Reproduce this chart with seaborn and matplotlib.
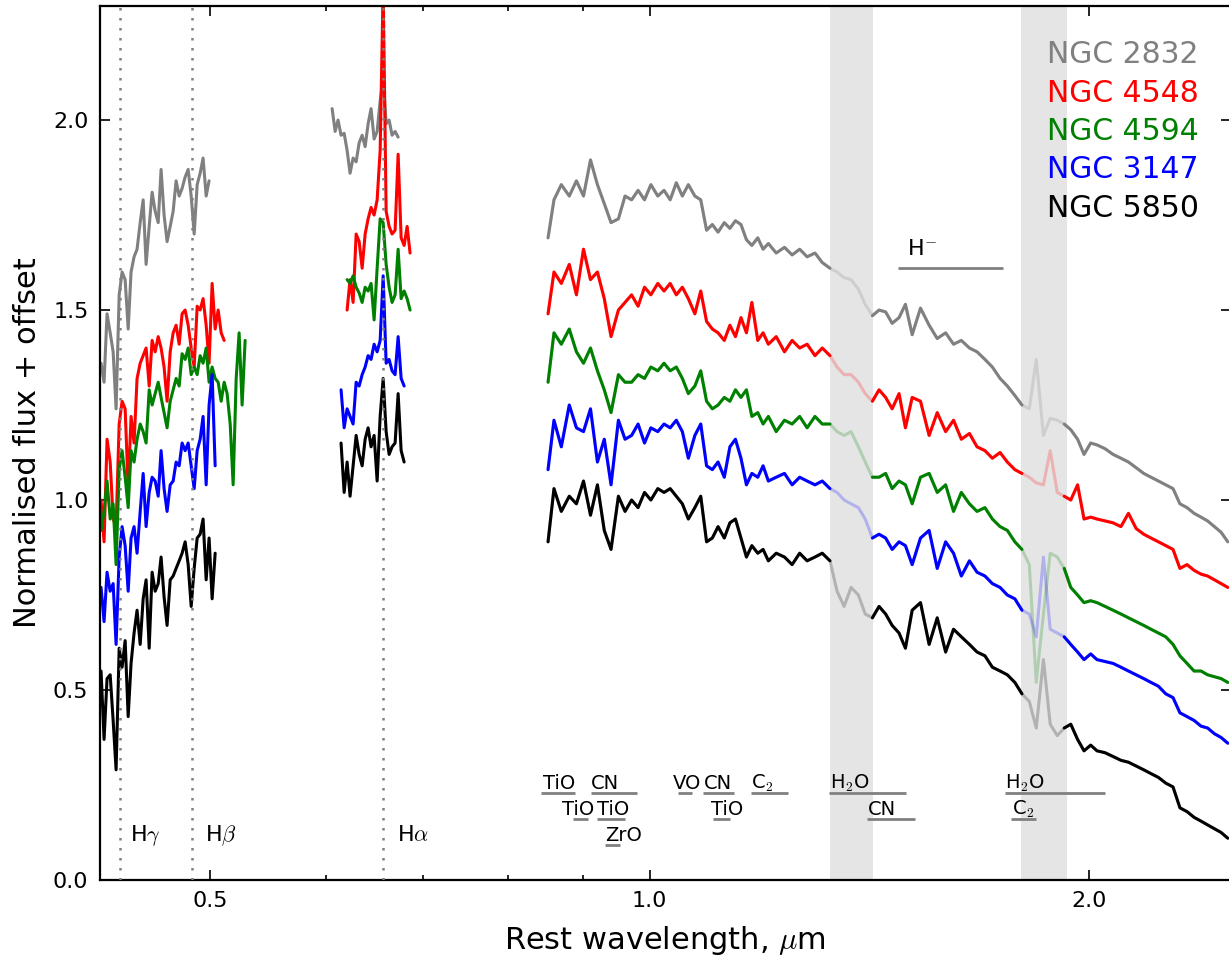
import numpy as np
import pandas as pd
import matplotlib
matplotlib.use("Agg")
import matplotlib.pyplot as plt
from matplotlib.ticker import FixedLocator, NullFormatter
import seaborn as sns

# ---------------- data ----------------
GALAXIES = ["NGC 2832", "NGC 4548", "NGC 4594", "NGC 3147", "NGC 5850"]
COLORS = ["grey", "red", "green", "blue", "black"]

# optical segment (micron)
OPT_WL = [0.4210, 0.4230, 0.4250, 0.4271, 0.4291, 0.4311, 0.4332, 0.4352, 0.4373, 0.4394,
          0.4414, 0.4435, 0.4456, 0.4478, 0.4499, 0.4520, 0.4542, 0.4563, 0.4585, 0.4607,
          0.4628, 0.4650, 0.4672, 0.4695, 0.4717, 0.4739, 0.4762, 0.4784, 0.4807, 0.4830,
          0.4853, 0.4876, 0.4899, 0.4922, 0.4945, 0.4969, 0.4992, 0.5016, 0.5040, 0.5064,
          0.5088, 0.5112, 0.5136, 0.5161, 0.5185, 0.5210, 0.5234, 0.5259, 0.5284]
N = None
OPT_2832 = [1.36, 1.31, 1.49, 1.44, 1.39, 1.24, 1.54, 1.60, 1.58, 1.45, 1.60, 1.64, 1.66, 1.73,
            1.79, 1.62, 1.72, 1.81, 1.76, 1.73, 1.87, 1.75, 1.68, 1.72, 1.76, 1.84, 1.80, 1.82,
            1.85, 1.87, 1.80, 1.70, 1.83, 1.86, 1.90, 1.80, 1.84] + [N] * 12
OPT_4548 = [1.00, 0.89, 1.16, 1.10, 0.95, 0.93, 1.20, 1.26, 1.24, 1.03, 1.22, 1.15, 1.32, 1.36,
            1.38, 1.40, 1.30, 1.42, 1.39, 1.43, 1.40, 1.35, 1.26, 1.39, 1.44, 1.46, 1.41, 1.49,
            1.50, 1.46, 1.40, 1.35, 1.51, 1.50, 1.53, 1.46, 1.36, 1.57, 1.45, 1.50, 1.44, 1.42] + [N] * 7
OPT_4594 = [0.92, 0.97, 1.05, 0.95, 0.99, 0.83, 1.08, 1.13, 1.06, 0.98, 1.13, 1.10, 1.16, 1.20,
            1.18, 1.15, 1.29, 1.25, 1.28, 1.31, 1.27, 1.23, 1.19, 1.26, 1.29, 1.32, 1.30, 1.385,
            1.37, 1.40, 1.33, 1.35, 1.33, 1.38, 1.36, 1.40, 1.31, 1.35, 1.32, 1.31, 1.26, 1.31,
            1.28, 1.20, 1.04, 1.32, 1.44, 1.25, 1.42]
OPT_3147 = [0.77, 0.68, 0.81, 0.76, 0.78, 0.62, 0.85, 0.93, 0.88, 0.76, 0.90, 0.93, 0.86, 0.97,
            1.07, 0.93, 1.02, 1.06, 1.05, 1.01, 1.13, 1.03, 0.97, 1.04, 1.05, 1.10, 1.09, 1.15,
            1.13, 1.15, 1.09, 1.03, 1.13, 1.16, 1.22, 1.04, 1.25, 1.33, 1.09] + [N] * 10
OPT_5850 = [0.55, 0.37, 0.53, 0.54, 0.42, 0.29, 0.61, 0.56, 0.63, 0.43, 0.57, 0.65, 0.71, 0.62,
            0.74, 0.79, 0.61, 0.81, 0.76, 0.78, 0.85, 0.745, 0.67, 0.79, 0.80, 0.82, 0.84, 0.86,
            0.89, 0.83, 0.72, 0.82, 0.90, 0.91, 0.95, 0.79, 0.90, 0.74, 0.86] + [N] * 10

# H-alpha segment (micron)
HA_WL = [0.6061, 0.6090, 0.6118, 0.6147, 0.6177, 0.6206, 0.6235, 0.6265, 0.6295, 0.6325,
         0.6355, 0.6385, 0.6415, 0.6445, 0.6476, 0.6507, 0.6538, 0.6569, 0.6600, 0.6631,
         0.6662, 0.6694, 0.6726, 0.6758, 0.6790, 0.6822, 0.6854]
HA_2832 = [2.03, 1.97, 2.00, 1.96, 1.965, 1.92, 1.86, 1.90, 1.89, 1.94, 1.96, 1.93, 1.99, 2.03,
           1.95, 1.97, 2.05, 2.11, 1.99, 2.00, 1.96, 1.97, 1.955] + [N] * 4
HA_4548 = [N] * 5 + [1.50, 1.58, 1.52, 1.70, 1.68, 1.61, 1.70, 1.74, 1.77, 1.75, 1.79, 1.92, 2.35,
                     1.76, 1.72, 1.70, 1.71, 1.91, 1.69, 1.67, 1.72, 1.65]
HA_4594 = [N] * 5 + [1.58, 1.57, 1.59, 1.56, 1.545, 1.52, 1.56, 1.55, 1.57, 1.474, 1.61, 1.74,
                     1.73, 1.62, 1.56, 1.52, 1.54, 1.66, 1.53, 1.55, 1.53, 1.50]
HA_3147 = [N] * 3 + [1.29, 1.19, 1.24, 1.22, 1.20, 1.31, 1.30, 1.33, 1.35, 1.38, 1.37, 1.41, 1.39,
                     1.42, 1.59, 1.36, 1.37, 1.34, 1.33, 1.43, 1.32, 1.30] + [N] * 2
HA_5850 = [N] * 3 + [1.15, 1.02, 1.10, 1.01, 1.09, 1.17, 1.12, 1.09, 1.16, 1.19, 1.14, 1.17, 1.05,
                     1.22, 1.32, 1.18, 1.12, 1.14, 1.15, 1.28, 1.13, 1.10] + [N] * 2

# near-infrared segment (micron)
NIR_WL = [0.852, 0.860, 0.870, 0.881, 0.891, 0.901, 0.911, 0.921, 0.931, 0.941,
          0.952, 0.962, 0.972, 0.982, 0.992, 1.002, 1.013, 1.023, 1.033, 1.043,
          1.053, 1.063, 1.074, 1.084, 1.094, 1.104, 1.114, 1.125, 1.135, 1.145,
          1.155, 1.165, 1.175, 1.186, 1.196, 1.206, 1.221, 1.237, 1.252, 1.267,
          1.282, 1.298, 1.313, 1.329, 1.344, 1.359, 1.374, 1.390, 1.405, 1.421,
          1.436, 1.451, 1.466, 1.482, 1.497, 1.513, 1.533, 1.554, 1.574, 1.595,
          1.615, 1.635, 1.656, 1.676, 1.697, 1.717, 1.738, 1.758, 1.779, 1.799,
          1.820, 1.840, 1.861, 1.881, 1.902, 1.923, 1.943, 1.964, 1.984, 2.005,
          2.025, 2.051, 2.077, 2.103, 2.128, 2.154, 2.180, 2.205, 2.231, 2.257,
          2.283, 2.308, 2.334, 2.360, 2.386, 2.411, 2.437, 2.463, 2.489]
NIR_2832 = [1.69, 1.79, 1.83, 1.80, 1.84, 1.80, 1.895, 1.83, 1.78, 1.73,
            1.74, 1.80, 1.79, 1.815, 1.79, 1.83, 1.80, 1.815, 1.79, 1.835,
            1.80, 1.83, 1.80, 1.79, 1.71, 1.725, 1.705, 1.73, 1.715, 1.735,
            1.725, 1.685, 1.67, 1.69, 1.66, 1.675, 1.65, 1.665, 1.645, 1.66,
            1.64, 1.65, 1.625, 1.61, 1.60, 1.585, 1.58, 1.555, 1.515, 1.485,
            1.50, 1.495, 1.465, 1.48, 1.515, 1.435, 1.505, 1.46, 1.425, 1.44,
            1.41, 1.42, 1.40, 1.39, 1.37, 1.35, 1.32, 1.30, 1.275, 1.25,
            1.24, 1.37, 1.17, 1.215, 1.21, 1.20, 1.185, 1.16, 1.12, 1.15,
            1.145, 1.135, 1.12, 1.11, 1.10, 1.085, 1.07, 1.06, 1.05, 1.04,
            1.03, 0.99, 0.98, 0.965, 0.955, 0.945, 0.93, 0.915, 0.89]
NIR_4548 = [1.49, 1.60, 1.57, 1.62, 1.54, 1.66, 1.58, 1.60, 1.53, 1.43,
            1.50, 1.52, 1.54, 1.51, 1.56, 1.54, 1.57, 1.55, 1.57, 1.54,
            1.56, 1.53, 1.49, 1.55, 1.47, 1.45, 1.44, 1.42, 1.46, 1.43,
            1.48, 1.44, 1.52, 1.42, 1.44, 1.41, 1.43, 1.39, 1.42, 1.40,
            1.41, 1.38, 1.40, 1.38, 1.35, 1.33, 1.33, 1.31, 1.28, 1.26,
            1.29, 1.27, 1.24, 1.28, 1.19, 1.27, 1.26, 1.17, 1.23, 1.18,
            1.21, 1.16, 1.175, 1.14, 1.13, 1.11, 1.125, 1.10, 1.08, 1.07,
            1.06, 1.045, 1.04, 1.13, 1.02, 1.01, 1.00, 1.04, 0.95, 0.955,
            0.95, 0.945, 0.94, 0.93, 0.965, 0.925, 0.91, 0.90, 0.89, 0.88,
            0.87, 0.82, 0.83, 0.815, 0.805, 0.80, 0.79, 0.78, 0.77]
NIR_4594 = [1.31, 1.44, 1.41, 1.45, 1.39, 1.36, 1.40, 1.34, 1.29, 1.23,
            1.33, 1.31, 1.31, 1.33, 1.32, 1.35, 1.34, 1.36, 1.34, 1.35,
            1.32, 1.28, 1.30, 1.34, 1.26, 1.24, 1.25, 1.27, 1.26, 1.29,
            1.27, 1.29, 1.22, 1.23, 1.20, 1.22, 1.18, 1.21, 1.20, 1.22,
            1.19, 1.22, 1.20, 1.20, 1.18, 1.17, 1.18, 1.14, 1.10, 1.06,
            1.06, 1.07, 1.03, 1.05, 1.04, 0.99, 1.06, 1.07, 1.02, 1.04,
            0.97, 1.02, 0.99, 0.97, 0.98, 0.95, 0.93, 0.92, 0.89, 0.87,
            0.83, 0.52, 0.70, 0.86, 0.85, 0.82, 0.77, 0.75, 0.73, 0.735,
            0.73, 0.72, 0.71, 0.70, 0.69, 0.68, 0.67, 0.66, 0.65, 0.64,
            0.62, 0.59, 0.57, 0.55, 0.55, 0.54, 0.535, 0.53, 0.52]
NIR_3147 = [1.08, 1.21, 1.14, 1.25, 1.19, 1.18, 1.24, 1.10, 1.16, 1.04,
            1.21, 1.16, 1.17, 1.20, 1.15, 1.19, 1.18, 1.20, 1.19, 1.21,
            1.18, 1.11, 1.17, 1.20, 1.09, 1.08, 1.10, 1.06, 1.14, 1.16,
            1.11, 1.04, 1.07, 1.06, 1.09, 1.05, 1.06, 1.07, 1.04, 1.06,
            1.05, 1.04, 1.05, 1.03, 1.02, 1.00, 0.99, 0.98, 0.95, 0.90,
            0.91, 0.90, 0.87, 0.89, 0.88, 0.83, 0.90, 0.92, 0.82, 0.89,
            0.86, 0.80, 0.84, 0.81, 0.80, 0.78, 0.77, 0.75, 0.74, 0.71,
            0.70, 0.64, 0.85, 0.66, 0.65, 0.64, 0.62, 0.60, 0.58, 0.595,
            0.58, 0.575, 0.57, 0.56, 0.55, 0.54, 0.53, 0.52, 0.51, 0.49,
            0.48, 0.44, 0.43, 0.42, 0.405, 0.40, 0.385, 0.375, 0.36]
NIR_5850 = [0.89, 1.03, 0.97, 1.01, 0.99, 1.05, 0.96, 1.04, 0.92, 0.87,
            1.01, 0.97, 1.00, 0.98, 1.02, 1.00, 1.03, 1.02, 1.03, 1.01,
            0.99, 0.95, 0.98, 1.01, 0.89, 0.90, 0.93, 0.90, 0.94, 0.95,
            0.90, 0.85, 0.88, 0.86, 0.87, 0.84, 0.86, 0.85, 0.83, 0.86,
            0.84, 0.85, 0.86, 0.84, 0.76, 0.72, 0.77, 0.75, 0.70, 0.69,
            0.72, 0.70, 0.67, 0.65, 0.61, 0.71, 0.73, 0.62, 0.69, 0.60,
            0.66, 0.64, 0.62, 0.60, 0.59, 0.56, 0.55, 0.54, 0.52, 0.49,
            0.47, 0.40, 0.58, 0.41, 0.38, 0.40, 0.41, 0.37, 0.34, 0.355,
            0.34, 0.335, 0.325, 0.315, 0.31, 0.30, 0.29, 0.28, 0.27, 0.255,
            0.245, 0.19, 0.18, 0.165, 0.155, 0.145, 0.135, 0.125, 0.11]

OPTICAL = [OPT_2832, OPT_4548, OPT_4594, OPT_3147, OPT_5850]
HALPHA = [HA_2832, HA_4548, HA_4594, HA_3147, HA_5850]
NIR = [NIR_2832, NIR_4548, NIR_4594, NIR_3147, NIR_5850]

# telluric bands (micron)
TELLURIC = [(1.329, 1.422), (1.797, 1.932)]

# Balmer lines (micron)
BALMER_WL = [0.4341, 0.4861, 0.6563]
BALMER_LABELS = [r"H$\gamma$", r"H$\beta$", r"H$\alpha$"]
BALMER_TEXT_X = [0.4407, 0.4961, 0.6716]

# molecular features: label, start, end, row, text x
MOL_LABELS = ["TiO", "CN", "TiO", "TiO", "ZrO", "VO", "CN", "TiO", r"C$_2$",
              r"H$_2$O", "CN", r"H$_2$O", r"C$_2$"]
MOL_START = [0.843, 0.912, 0.886, 0.921, 0.932, 1.046, 1.088, 1.105, 1.174,
             1.327, 1.409, 1.752, 1.768]
MOL_END = [0.889, 0.981, 0.908, 0.962, 0.955, 1.069, 1.143, 1.135, 1.244,
           1.499, 1.520, 2.051, 1.840]
MOL_ROW = [0, 0, 1, 1, 2, 0, 0, 1, 0, 0, 1, 0, 1]
MOL_TEXT_X = [0.845, 0.912, 0.871, 0.921, 0.932, 1.038, 1.090, 1.102, 1.174,
              1.329, 1.411, 1.752, 1.770]
ROW_LINE_Y = [0.229, 0.160, 0.092]
ROW_TEXT_Y = [0.2395, 0.171, 0.1026]

HMINUS = (1.480, 1.746, 1.611)  # start, end, y

# ---------------- style ----------------
sns.set_style("ticks")
plt.rcParams["font.family"] = ["DejaVu Sans"]
plt.rcParams["mathtext.fontset"] = "cm"
for key in ["text.color", "axes.labelcolor", "xtick.color", "ytick.color", "axes.edgecolor"]:
    plt.rcParams[key] = "black"

fig = plt.figure(figsize=(12.29, 9.58), dpi=100)
ax = fig.add_axes([0.081, 0.0814, 0.9203, 0.9123])
ax.set_xscale("log")

for lo, hi in TELLURIC:
    ax.axvspan(lo, hi, color="#e5e5e5", lw=0, zorder=0)


def draw(wl, vals, color, alpha=1.0, z=2):
    df = pd.DataFrame({"wl": wl, "flux": vals}).dropna()
    sns.lineplot(data=df, x="wl", y="flux", color=color, lw=2.2, alpha=alpha,
                 estimator=None, sort=False, ax=ax, zorder=z, legend=False)


wl_nir = np.array(NIR_WL)
outside = (wl_nir < TELLURIC[0][0]) | ((wl_nir > TELLURIC[0][1]) & (wl_nir < TELLURIC[1][0])) | (wl_nir > TELLURIC[1][1])
ext = outside.copy()
ext[1:] |= outside[:-1]
ext[:-1] |= outside[1:]
idx = np.flatnonzero(ext)
runs = np.split(idx, np.flatnonzero(np.diff(idx) > 1) + 1)

for color, opt, ha, nir in zip(COLORS, OPTICAL, HALPHA, NIR):
    draw(OPT_WL, np.array(opt, dtype=float), color)
    draw(HA_WL, np.array(ha, dtype=float), color)
    nir = np.array(nir, dtype=float)
    draw(wl_nir, nir, color, alpha=0.22, z=1.5)
    for r in runs:
        draw(wl_nir[r], nir[r], color)

for x in BALMER_WL:
    ax.axvline(x, color="grey", ls=(0, (1, 3)), lw=1.8, zorder=3)
for lab, tx in zip(BALMER_LABELS, BALMER_TEXT_X):
    ax.text(tx, ROW_TEXT_Y[2], lab, fontsize=16, ha="left", va="baseline")

for lab, s, e, r, tx in zip(MOL_LABELS, MOL_START, MOL_END, MOL_ROW, MOL_TEXT_X):
    ax.plot([s, e], [ROW_LINE_Y[r], ROW_LINE_Y[r]], color="grey", lw=2, solid_capstyle="butt")
    ax.text(tx, ROW_TEXT_Y[r], lab, fontsize=14, ha="left", va="baseline")

ax.plot([HMINUS[0], HMINUS[1]], [HMINUS[2], HMINUS[2]], color="grey", lw=2, solid_capstyle="butt")
ax.text(1.501, 1.645, r"H$^{-}$", fontsize=16, ha="left", va="baseline")

for i, (name, c) in enumerate(zip(GALAXIES, COLORS)):
    ax.text(0.972, 0.9344 - i * 0.04388, name, color=c, fontsize=21.5,
            ha="right", va="baseline", transform=ax.transAxes)

ax.set_xlim(0.42, 2.5)
ax.set_ylim(0, 2.3)
ax.set_xticks([0.5, 1.0, 2.0])
ax.set_xticklabels(["0.5", "1.0", "2.0"])
ax.xaxis.set_minor_locator(FixedLocator([0.6, 0.7, 0.8, 0.9]))
ax.xaxis.set_minor_formatter(NullFormatter())
ax.set_yticks([0.0, 0.5, 1.0, 1.5, 2.0])
ax.set_yticklabels(["0.0", "0.5", "1.0", "1.5", "2.0"])
ax.tick_params(which="both", direction="in", top=True, right=True, labelsize=16, width=1.2,
               colors="black")
ax.tick_params(which="major", length=7, pad=8)
ax.tick_params(which="minor", length=3.5)
for sp in ax.spines.values():
    sp.set_linewidth(1.6)
    sp.set_color("black")
    sp.set_visible(True)

ax.set_xlabel(r"Rest wavelength, $\mu$m", fontsize=22, labelpad=9)
ax.set_ylabel("Normalised flux + offset", fontsize=22, labelpad=8)

fig.savefig("out.png", dpi=100)
